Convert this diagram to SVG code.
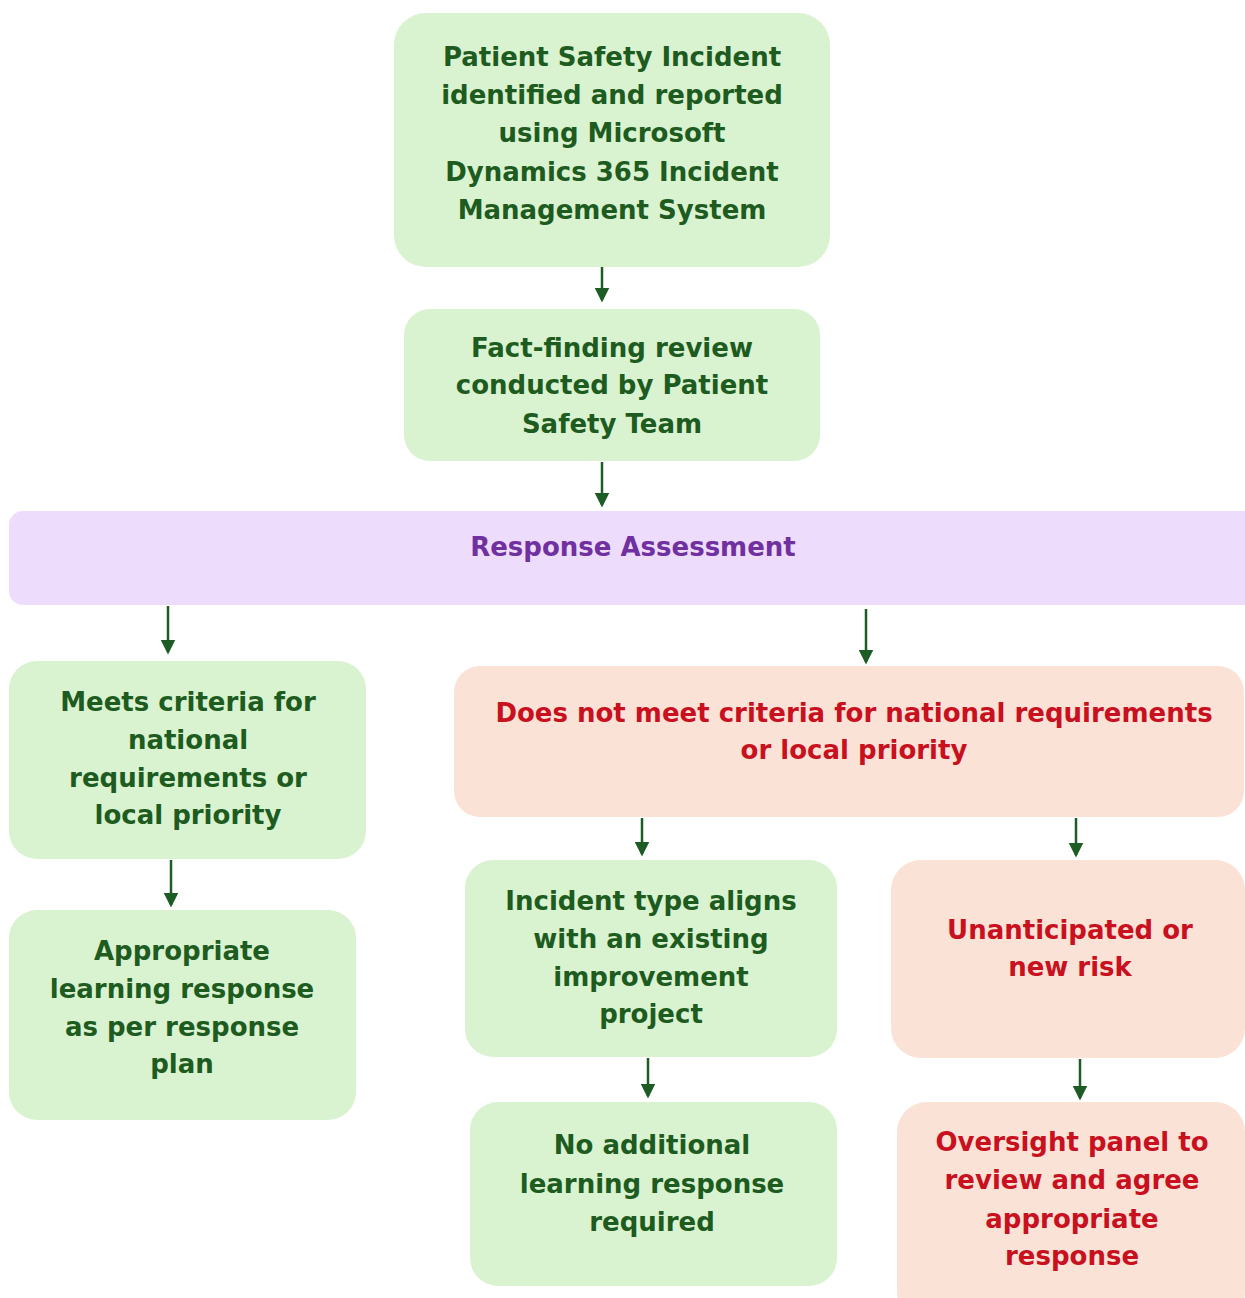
<svg xmlns="http://www.w3.org/2000/svg" width="1245" height="1298" viewBox="0 0 1245 1298">
<defs>
<marker id="ah" markerWidth="6" markerHeight="6" refX="5" refY="3" orient="auto" markerUnits="strokeWidth"><path d="M0,0 L6,3 L0,6 Z" fill="#1e5c25"/></marker>
<style>
.g{fill:#d9f2d0}
.p{fill:#fbe2d6}
.v{fill:#eedcfd}
text{font-family:"DejaVu Sans","Liberation Sans",sans-serif;font-weight:bold;font-size:26px;text-anchor:middle}
.tg{fill:#1d5b1f}
.tr{fill:#c8101e}
.tv{fill:#7030a0}
.c line{stroke:#1e5c25;stroke-width:2.5;marker-end:url(#ah)}
</style>
</defs>
<rect width="1245" height="1298" fill="#ffffff"/>
<g class="c" id="connectors">
<line x1="602" y1="267" x2="602" y2="300"/>
<line x1="602" y1="462" x2="602" y2="505"/>
<line x1="168" y1="606" x2="168" y2="652"/>
<line x1="866" y1="609" x2="866" y2="662"/>
<line x1="171" y1="860" x2="171" y2="905"/>
<line x1="642" y1="818" x2="642" y2="854"/>
<line x1="1076" y1="818" x2="1076" y2="855"/>
<line x1="648" y1="1058" x2="648" y2="1096"/>
<line x1="1080" y1="1059" x2="1080" y2="1098"/>
</g>
<g id="n1"><rect class="g" x="394" y="13" width="436" height="254" rx="32"/>
<text class="tg"><tspan x="612" y="66">Patient Safety Incident</tspan><tspan x="612" y="104">identified and reported</tspan><tspan x="612" y="142">using Microsoft</tspan><tspan x="612" y="181">Dynamics 365 Incident</tspan><tspan x="612" y="219">Management System</tspan></text></g>
<g id="n2"><rect class="g" x="404" y="309" width="416" height="152" rx="26"/>
<text class="tg"><tspan x="612" y="357">Fact-finding review</tspan><tspan x="612" y="394">conducted by Patient</tspan><tspan x="612" y="433">Safety Team</tspan></text></g>
<g id="n3"><rect class="v" x="9" y="511" width="1250" height="94" rx="14"/>
<text class="tv" x="633" y="556">Response Assessment</text></g>
<g id="n4"><rect class="g" x="9" y="661" width="357" height="198" rx="28"/>
<text class="tg"><tspan x="188" y="711">Meets criteria for</tspan><tspan x="188" y="749">national</tspan><tspan x="188" y="787">requirements or</tspan><tspan x="188" y="824">local priority</tspan></text></g>
<g id="n5"><rect class="g" x="9" y="910" width="347" height="210" rx="28"/>
<text class="tg"><tspan x="182" y="960">Appropriate</tspan><tspan x="182" y="998">learning response</tspan><tspan x="182" y="1036">as per response</tspan><tspan x="182" y="1073">plan</tspan></text></g>
<g id="n6"><rect class="p" x="454" y="666" width="790" height="151" rx="26"/>
<text class="tr"><tspan x="854" y="722">Does not meet criteria for national requirements</tspan><tspan x="854" y="759">or local priority</tspan></text></g>
<g id="n7"><rect class="g" x="465" y="860" width="372" height="197" rx="28"/>
<text class="tg"><tspan x="651" y="910">Incident type aligns</tspan><tspan x="651" y="948">with an existing</tspan><tspan x="651" y="986">improvement</tspan><tspan x="651" y="1023">project</tspan></text></g>
<g id="n8"><rect class="p" x="891" y="860" width="354" height="198" rx="30"/>
<text class="tr"><tspan x="1070" y="939">Unanticipated or</tspan><tspan x="1070" y="976">new risk</tspan></text></g>
<g id="n9"><rect class="g" x="470" y="1102" width="367" height="184" rx="28"/>
<text class="tg"><tspan x="652" y="1154">No additional</tspan><tspan x="652" y="1193">learning response</tspan><tspan x="652" y="1231">required</tspan></text></g>
<g id="n10"><rect class="p" x="897" y="1102" width="348" height="220" rx="30"/>
<text class="tr"><tspan x="1072" y="1151">Oversight panel to</tspan><tspan x="1072" y="1189">review and agree</tspan><tspan x="1072" y="1228">appropriate</tspan><tspan x="1072" y="1265">response</tspan></text></g>
</svg>
